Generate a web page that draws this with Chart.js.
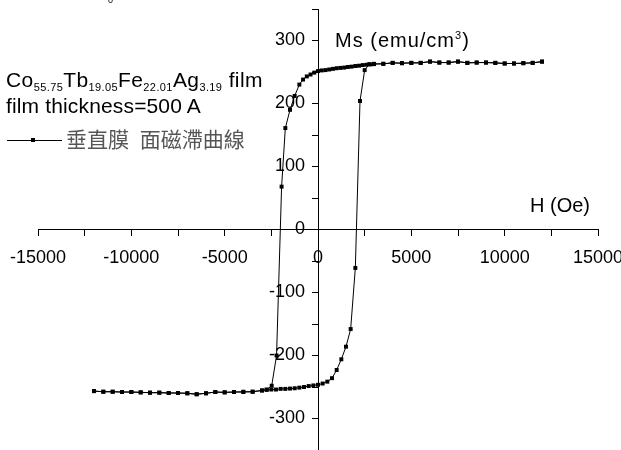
<!DOCTYPE html>
<html>
<head>
<meta charset="utf-8">
<script src="https://cdn.jsdelivr.net/npm/chart.js@4"></script>
<style>
  body { margin: 0; background: #fff; }
  #wrap { position: relative; width: 621px; height: 450px; overflow: hidden; }
  #chart { position: absolute; left: 0; top: -25px; }
  .t { position: absolute; font-family: "Liberation Sans", Arial, sans-serif; color: #000; white-space: nowrap; line-height: 1; }
  .t sub { font-size: 11px; vertical-align: -4px; line-height: 0; }
  .t sup { font-size: 11px; vertical-align: 8px; line-height: 0; }
  .cjk { font-family: "Noto Sans CJK TC", sans-serif; color: #555; word-spacing: 6px; }
</style>
</head>
<body>
<div id="wrap">
  <canvas id="chart" width="640" height="510"></canvas>
  <div class="t" style="left:108px;top:-4px;font-size:9px">0</div>
  <div class="t" style="left:6px;top:69px;font-size:21px;letter-spacing:0.4px">Co<sub>55.75</sub>Tb<sub>19.05</sub>Fe<sub>22.01</sub>Ag<sub>3.19</sub> film</div>
  <div class="t" style="left:6px;top:95px;font-size:21px;letter-spacing:0.15px">film thickness=500 A</div>
  <div style="position:absolute;left:7px;top:140px;width:55px;height:1px;background:#000"></div>
  <div style="position:absolute;left:31px;top:138px;width:4px;height:4px;background:#000"></div>
  <div class="t cjk" style="left:66px;top:128px;font-size:21px">垂直膜 面磁滯曲線</div>
  <div class="t" style="left:335px;top:30px;font-size:20px;letter-spacing:1px">Ms (emu/cm<sup>3</sup>)</div>
  <div class="t" style="left:530px;top:195px;font-size:20px">H (Oe)</div>
</div>
<script>
// descending branch, +12000 Oe -> -12000 Oe
const descH = [12000, 11500, 11000, 10500, 10000, 9500, 9000, 8500, 8000, 7500, 7000, 6500, 6000, 5500, 5000, 4500, 4000, 3500, 3000,
  2800, 2600, 2400, 2200, 2000, 1800, 1600, 1400, 1200, 1000, 800, 600, 400, 200, 0, -200, -400, -600, -800,
  -1000, -1250, -1500, -1750, -1950, -2220, -2480, -2750, -3000,
  -3500, -4000, -4500, -5000, -5500, -6000, -6500, -7000, -7500, -8000, -8500, -9000, -9500, -10000, -10500, -11000, -11500, -12000];
const descM = [266.5, 264.5, 264, 263.5, 263.5, 264.5, 265, 265, 264.5, 266.5, 265, 265, 266.5, 264.5, 264.5, 264, 264.5, 263, 262.5,
  262, 261.5, 261, 260, 259.5, 258.5, 258, 257, 256.5, 256, 255, 254, 253, 252.5, 251.5, 249, 246, 243, 238,
  230, 212, 190, 161, 68, -200, -248, -254, -255.5,
  -257.5, -258, -258, -258.5, -258, -260, -261.5, -260, -259.5, -259.5, -259, -259, -258.5, -258, -258, -257.5, -257.5, -256.5];

// ascending branch, -12000 Oe -> +12000 Oe
const ascH = [-12000, -11500, -11000, -10500, -10000, -9500, -9000, -8500, -8000, -7500, -7000, -6500, -6000, -5500, -5000, -4500, -4000, -3500, -3000,
  -2750, -2500, -2250, -2000, -1750, -1500, -1250, -1000, -750, -500, -250, 0, 250, 500, 750, 1000, 1250, 1500, 1750, 2000, 2250, 2500, 2750, 3000,
  3500, 4000, 4500, 5000, 5500, 6000, 6500, 7000, 7500, 8000, 8500, 9000, 9500, 10000, 10500, 11000, 11500, 12000];
const ascM = [-256.5, -257.5, -257.5, -258, -258, -258.5, -259, -259, -259.5, -259.5, -260, -261.5, -260, -258, -258.5, -258, -257.5, -257.5, -255.5,
  -254.5, -254, -254, -253, -253, -252.5, -252, -251, -250, -248.5, -247.5, -246.5, -244.5, -241.5, -236, -223, -206, -186, -158, -61, 204, 253, 262.5, 263,
  263, 264.5, 264, 264.5, 264.5, 266.5, 265, 265, 266.5, 264.5, 265, 265, 264.5, 263.5, 263.5, 264, 264.5, 266.5];

const xTicks = [-15000, -10000, -5000, 0, 5000, 10000, 15000];
const yTicks = [-300, -200, -100, 0, 100, 200, 300];

const loop = descH.map((h, i) => ({ x: h, y: descM[i] }))
  .concat(ascH.map((h, i) => ({ x: h, y: ascM[i] })));

const tickFont = { family: '"Liberation Sans", Arial, sans-serif', size: 18 };

// axes placed at a value ignore tick length/padding for the labels,
// so push the labels off the axis lines here
const labelNudge = {
  id: 'labelNudge',
  beforeDraw(chart) {
    chart.scales.y.getLabelItems().forEach(it => {
      if (!it._moved) { it.options.translation[0] -= 13; it._moved = true; }
    });
    chart.scales.x.getLabelItems().forEach(it => {
      if (!it._moved) { it.options.translation[1] += 6; it._moved = true; }
    });
  }
};

// canvas sits 25px above the page and is wider/taller than the frame,
// so the plot area lands at x 38..598, y 9..450 of the visible picture
new Chart(document.getElementById('chart'), {
  type: 'scatter',
  data: {
    datasets: [{
      data: loop,
      showLine: true,
      borderColor: '#000',
      borderWidth: 1,
      tension: 0,
      pointStyle: 'rect',
      pointRadius: 2.8,
      pointBorderWidth: 0,
      pointBackgroundColor: '#000'
    }]
  },
  options: {
    responsive: false,
    animation: false,
    layout: { padding: { left: 38, right: 42, top: 34, bottom: 35 } },
    plugins: { legend: { display: false }, tooltip: { enabled: false } },
    scales: {
      x: {
        type: 'linear',
        min: -15000,
        max: 15000,
        position: { y: 0 },
        grid: { drawOnChartArea: false, drawTicks: true, tickLength: 6, color: '#000' },
        border: { color: '#000', width: 1 },
        ticks: {
          stepSize: 2500,
          autoSkip: false,
          maxRotation: 0,
          padding: 6,
          color: '#000',
          font: tickFont,
          callback: v => xTicks.includes(v) ? String(v) : ''
        }
      },
      y: {
        type: 'linear',
        min: -350,
        max: 350,
        position: { x: 0 },
        grid: { drawOnChartArea: false, drawTicks: true, tickLength: 6, color: '#000' },
        border: { color: '#000', width: 1 },
        ticks: {
          stepSize: 50,
          autoSkip: false,
          padding: 6,
          color: '#000',
          font: tickFont,
          callback: v => yTicks.includes(v) ? String(v) : ''
        }
      }
    }
  },
  plugins: [labelNudge]
});
</script>
</body>
</html>
